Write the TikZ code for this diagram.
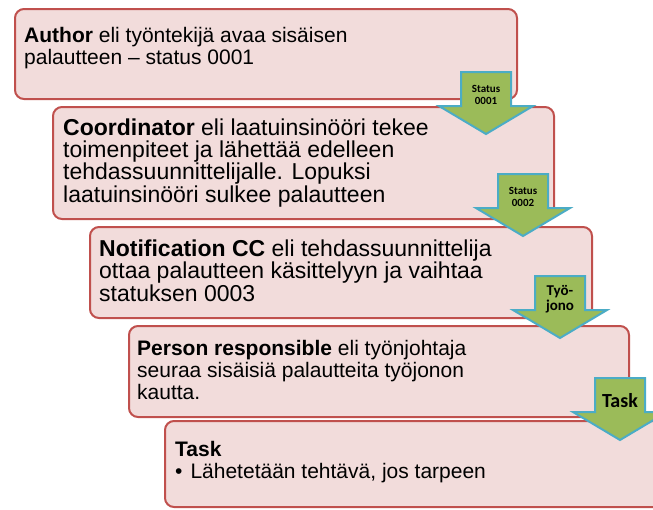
\documentclass[tikz,border=0pt]{standalone}
\usepackage{fontspec}
\setmainfont{Liberation Sans}
\newfontfamily\arrowfont{Carlito}
\definecolor{boxfill}{HTML}{F2DCDB}
\definecolor{boxline}{HTML}{C0504D}
\definecolor{arrowfill}{HTML}{9BBB59}
\definecolor{arrowline}{HTML}{4BACC6}
\begin{document}
\begin{tikzpicture}[x=1pt,y=-1pt,
  stepbox/.style={draw=boxline, fill=boxfill, line width=2pt,
    rounded corners=9pt, inner sep=0pt, anchor=north west},
  % text blocks are placed by the baseline of their last line
  boxtext/.style={anchor=base west, align=left, inner sep=0pt,
    font=\fontsize{21}{22}\selectfont},
  widetext/.style={boxtext, font=\fontsize{23}{22.3}\selectfont},
  arrowbody/.style={draw=arrowline, fill=arrowfill, line width=2pt, line join=miter},
  arrowlabel/.style={align=center, inner sep=0pt, text=black},
  pics/flowarrow/.style 2 args={code={
    \draw[arrowbody] (-25,0) -- (25,0) -- (25,34) -- (47,34) -- (0,62)
      -- (-47,34) -- (-25,34) -- cycle;
    \node[arrowlabel, font=\arrowfont\bfseries#1] (-label) at (0,23) {#2};
  }}
]
\useasboundingbox (0,0) rectangle (653,509);
\clip (0,0) rectangle (653,509);
\fill[white] (0,0) rectangle (653,509);

% the five steps
\node[stepbox, minimum width=502pt, minimum height=90pt]  (author)   at (14,8)    {};
\node[stepbox, minimum width=501pt, minimum height=112pt] (coord)    at (52,106)  {};
\node[stepbox, minimum width=502pt, minimum height=91pt]  (notif)    at (89,226)  {};
\node[stepbox, minimum width=500pt, minimum height=91pt]  (person)   at (128,325) {};
\node[stepbox, minimum width=502pt, minimum height=86pt]  (task)     at (164,420) {};

\node[boxtext] (authortext) at (24,64)
  {\textbf{Author} eli työntekijä avaa sisäisen\\palautteen – status 0001};
\node[widetext] (coordtext) at (63,202)
  {\textbf{Coordinator} eli laatuinsinööri tekee\\toimenpiteet ja lähettää edelleen\\tehdassuunnittelijalle. Lopuksi\\laatuinsinööri sulkee palautteen};
\node[widetext] (notiftext) at (99,301)
  {\textbf{Notification CC} eli tehdassuunnittelija\\ottaa palautteen käsittelyyn ja vaihtaa\\statuksen 0003};
\node[boxtext] (persontext) at (137,399)
  {\textbf{Person responsible} eli työnjohtaja\\seuraa sisäisiä palautteita työjonon\\kautta.};
\node[boxtext] (tasktext) at (175,478)
  {\textbf{Task}\\•\hspace{8pt}Lähetetään tehtävä, jos tarpeen};

% arrows between the steps
\pic (a1) at (486,72)  {flowarrow={\fontsize{11}{12}\selectfont}{Status\\0001}};
\pic (a2) at (523,174) {flowarrow={\fontsize{11}{12}\selectfont}{Status\\0002}};
\pic (a3) at (560,276) {flowarrow={\fontsize{15}{15}\selectfont}{Työ-\\jono}};
\pic (a4) at (620,378) {flowarrow={\fontsize{20}{20}\selectfont}{Task}};
\end{tikzpicture}
\end{document}
